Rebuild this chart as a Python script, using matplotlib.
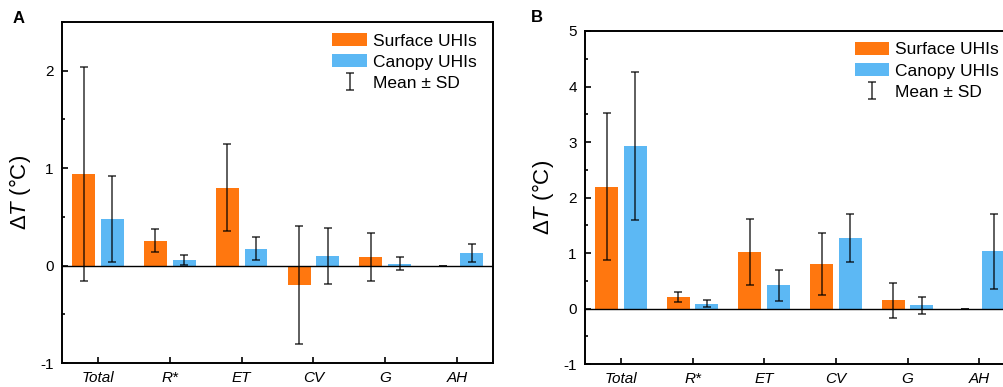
import matplotlib.pyplot as plt
import numpy as np
from matplotlib.ticker import MultipleLocator

plt.rcParams['font.family'] = ['Liberation Sans', 'DejaVu Sans']
plt.rcParams['mathtext.fontset'] = 'custom'
plt.rcParams['mathtext.rm'] = 'Liberation Sans'
plt.rcParams['mathtext.it'] = 'Liberation Sans:italic'

categories = ['Total', 'R*', 'ET', 'CV', 'G', 'AH']

# Panel A
surf_a = [0.94, 0.255, 0.80, -0.20, 0.09, -0.005]
surf_a_sd = [1.10, 0.12, 0.45, 0.61, 0.245, 0.003]
canopy_a = [0.48, 0.06, 0.175, 0.10, 0.02, 0.13]
canopy_a_sd = [0.44, 0.05, 0.115, 0.29, 0.067, 0.09]

# Panel B
surf_b = [2.195, 0.21, 1.02, 0.80, 0.15, -0.005]
surf_b_sd = [1.32, 0.09, 0.59, 0.56, 0.315, 0.003]
canopy_b = [2.93, 0.09, 0.42, 1.27, 0.055, 1.03]
canopy_b_sd = [1.335, 0.055, 0.28, 0.44, 0.16, 0.68]

ORANGE = '#ff770f'
BLUE = '#5cb8f4'


def draw_panel(ax, surf, surf_sd, canopy, canopy_sd, ylim):
    x = np.arange(len(categories))
    w = 0.32
    off = 0.2
    b1 = ax.bar(x - off, surf, w, color=ORANGE, label='Surface UHIs', zorder=2)
    b2 = ax.bar(x + off, canopy, w, color=BLUE, label='Canopy UHIs', zorder=2)
    eb_kw = dict(fmt='none', ecolor='black', elinewidth=1.1, capsize=3.2,
                 capthick=1.1, alpha=0.8, zorder=3)
    eb = ax.errorbar(x - off, surf, yerr=surf_sd, **eb_kw)
    ax.errorbar(x + off, canopy, yerr=canopy_sd, **eb_kw)
    ax.axhline(0, color='black', lw=1.0, zorder=4)

    ax.set_xlim(-0.5, 5.5)
    ax.set_ylim(*ylim)
    ax.set_xticks(x)
    ax.set_xticklabels(categories, style='italic', fontsize=11.5)
    ax.yaxis.set_major_locator(MultipleLocator(1))
    ax.yaxis.set_minor_locator(MultipleLocator(0.5))
    ax.tick_params(axis='both', which='major', direction='in', length=4.5,
                   width=1.2, labelsize=11)
    ax.tick_params(axis='x', pad=6)
    ax.tick_params(axis='y', which='minor', direction='in', length=2.2, width=1.2)
    ax.tick_params(axis='y', pad=6)
    ax.yaxis.set_major_formatter(plt.FuncFormatter(lambda v, p: f'{v:g}'))
    for s in ax.spines.values():
        s.set_linewidth(1.4)

    ax.set_ylabel(r'$\Delta\mathit{T}$ (°C)', fontsize=16, labelpad=5)

    ax.legend([b1, b2, eb], ['Surface UHIs', 'Canopy UHIs', 'Mean ± SD'],
              loc='upper left', bbox_to_anchor=(0.627, 0.968),
              frameon=False, fontsize=12.5, borderpad=0,
              borderaxespad=0, handlelength=2.0, handleheight=0.8,
              handletextpad=0.35, labelspacing=0.32)


fig = plt.figure(figsize=(10.04, 3.87), dpi=100)
ax_a = fig.add_axes([0.0618, 0.062, 0.4293, 0.881])
ax_b = fig.add_axes([0.5827, 0.0594, 0.4283, 0.8605])

draw_panel(ax_a, surf_a, surf_a_sd, canopy_a, canopy_a_sd, (-1, 2.5))
draw_panel(ax_b, surf_b, surf_b_sd, canopy_b, canopy_b_sd, (-1, 5))

fig.text(0.013, 0.94, 'A', fontsize=12, fontweight='bold')
fig.text(0.529, 0.942, 'B', fontsize=12, fontweight='bold')

fig.savefig('out.png', dpi=100)
